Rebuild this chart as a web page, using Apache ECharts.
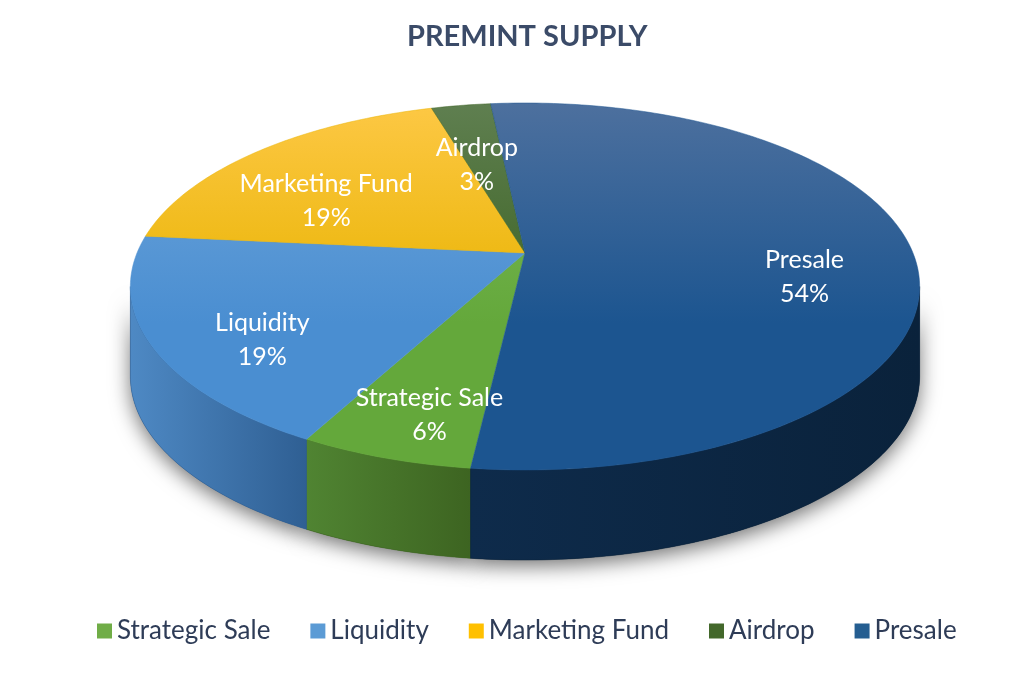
<!DOCTYPE html>
<html>
<head>
<meta charset="utf-8">
<title>Premint Supply</title>
<script src="https://cdn.jsdelivr.net/npm/echarts@6/dist/echarts.min.js"></script>
<style>
  html, body { margin: 0; padding: 0; background: #fff; }
  #main { width: 1024px; height: 680px; }
</style>
</head>
<body>
<div id="main"></div>
<script>
// data (share of the premint supply, %)
var categories = ['Strategic Sale', 'Liquidity', 'Marketing Fund', 'Airdrop', 'Presale'];
var shares = [6, 18.7, 18.9, 2.9, 53.5];

// colours: [top light, top dark, side light, side dark, legend]
var palette = [
    ['#7dbb5b', '#64a83b', '#508432', '#3d6421', '#70ad47'],
    ['#6fa6db', '#4a8ed1', '#4e89c4', '#2f5f93', '#5b9bd5'],
    ['#fdc845', '#e8b300', '#c99a00', '#a57d00', '#ffc000'],
    ['#5f7f50', '#3c6323', '#3c5f25', '#2c4a18', '#43682b'],
    ['#4d709e', '#1c5590', '#0e2b4b', '#0a223b', '#255e91']
];

// 3d pie geometry (perspective view of a flat disc)
var CX = 525, CY = 253, RX = 388, RY = 177.4, PERSP = 0.1826, DEPTH = 90;
var START = 186.6; // degrees, clockwise from 12 o'clock

var total = shares.reduce(function (a, b) { return a + b; }, 0);

function project(deg, r, drop) {
    var phi = deg * Math.PI / 180;
    var x = r * Math.sin(phi), y = -r * Math.cos(phi);
    var w = 1 - PERSP * y;
    return [CX + RX * x / w, CY + RY * y / w + (drop || 0)];
}

function arcPoints(a, b, drop) {
    var pts = [];
    var n = Math.max(2, Math.ceil(Math.abs(b - a)));
    for (var i = 0; i <= n; i++) {
        pts.push(project(a + (b - a) * i / n, 1, drop));
    }
    return pts;
}

// visible part of the outer wall (front side)
var edge = Math.acos(-PERSP) * 180 / Math.PI;
var FRONT = [edge, 360 - edge];

function renderSlice(params, api) {
    var idx = params.seriesIndex;
    var before = 0;
    for (var i = 0; i < idx; i++) before += shares[i];
    var value = api.value(0);
    var a = START + before / total * 360;
    var b = a + value / total * 360;
    var col = palette[idx];
    var children = [];

    // walls
    for (var k = 0; k < 3; k++) {
        var lo = Math.max(a, FRONT[0] + 360 * k);
        var hi = Math.min(b, FRONT[1] + 360 * k);
        if (hi <= lo) continue;
        var topRim = arcPoints(lo, hi, 0);
        var botRim = arcPoints(hi, lo, DEPTH);
        var wall = topRim.concat(botRim);
        children.push({
            type: 'polygon',
            z2: 0,
            shape: { points: wall },
            style: {
                fill: col[3],
                shadowBlur: 20,
                shadowOffsetY: 6,
                shadowColor: 'rgba(0,0,0,0.55)'
            }
        });
        children.push({
            type: 'polygon',
            z2: 1,
            shape: { points: wall },
            style: {
                fill: new echarts.graphic.LinearGradient(0, 0, 1, 0, [
                    { offset: 0, color: col[2] },
                    { offset: 1, color: col[3] }
                ]),
                stroke: col[3],
                lineWidth: 0.5
            }
        });
    }

    // top face
    var face = [[CX, CY]].concat(arcPoints(a, b, 0));
    children.push({
        type: 'polygon',
        z2: 2,
        shape: { points: face },
        style: {
            fill: new echarts.graphic.LinearGradient(0, CY - RY / (1 + PERSP), 0, CY + RY / (1 - PERSP), [
                { offset: 0, color: col[0] },
                { offset: 0.6, color: col[1] },
                { offset: 1, color: col[1] }
            ], true),
            stroke: col[1],
            lineWidth: 0.5
        }
    });

    // label
    var mid = project((a + b) / 2, 0.72, 23);
    var pct = Math.round(value / total * 100);
    children.push({
        type: 'text',
        z2: 3,
        x: mid[0],
        y: mid[1],
        style: {
            text: categories[idx] + '\n' + pct + '%',
            fill: '#ffffff',
            fontSize: 25,
            fontFamily: 'Lato',
            lineHeight: 34,
            align: 'center',
            verticalAlign: 'middle'
        }
    });

    return { type: 'group', children: children };
}

var chart = echarts.init(document.getElementById('main'));

var series = categories.map(function (name, i) {
    return {
        name: name,
        type: 'custom',
        coordinateSystem: 'none',
        renderItem: renderSlice,
        itemStyle: { color: palette[i][4] },
        data: [[shares[i]]]
    };
});

var option = {
    backgroundColor: '#ffffff',
    animation: false,
    title: {
        text: 'PREMINT SUPPLY',
        left: 402,
        top: 17,
        textStyle: {
            fontFamily: 'Lato',
            fontSize: 29,
            fontWeight: 'bold',
            color: '#3b4b68'
        }
    },
    legend: {
        data: categories,
        bottom: 31,
        left: 92,
        icon: 'rect',
        itemWidth: 15,
        itemHeight: 15,
        itemGap: 40,
        selectedMode: false,
        textStyle: {
            fontFamily: 'Lato',
            fontSize: 26,
            color: '#2e3c57'
        }
    },
    series: series
};

chart.setOption(option);
</script>
</body>
</html>
